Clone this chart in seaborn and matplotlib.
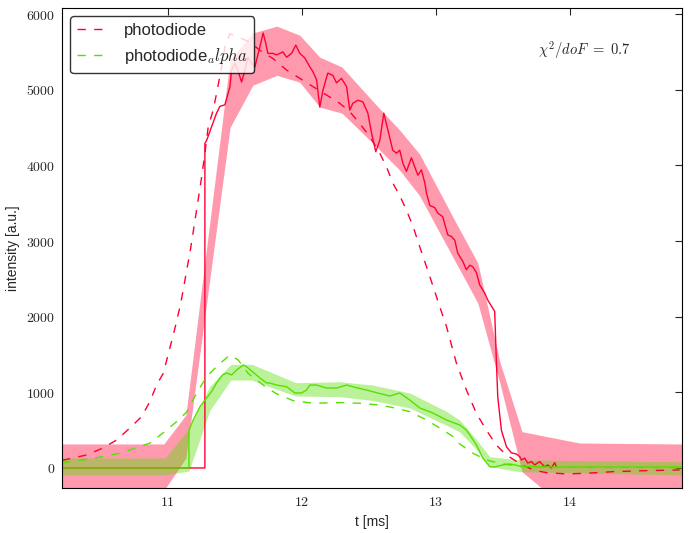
import matplotlib
matplotlib.use("Agg")
import matplotlib.pyplot as plt
from matplotlib.ticker import FuncFormatter, MultipleLocator
import seaborn as sns

# measured photodiode signal (solid red)
red_t = [10.21, 11.277, 11.277, 11.290, 11.327, 11.364, 11.389, 11.426, 11.464, 11.476, 11.501, 11.523, 11.551,
         11.576, 11.598, 11.626, 11.650, 11.688, 11.712, 11.732, 11.747, 11.785, 11.812, 11.837, 11.859, 11.887,
         11.924, 11.956, 11.986, 12.023, 12.061, 12.083, 12.111, 12.135, 12.158, 12.195, 12.232, 12.260, 12.297,
         12.335, 12.359, 12.381, 12.419, 12.456, 12.494, 12.521, 12.553, 12.583, 12.613, 12.643, 12.680, 12.708,
         12.732, 12.755, 12.782, 12.819, 12.844, 12.867, 12.894, 12.919, 12.932, 12.956, 12.994, 13.016, 13.053,
         13.091, 13.118, 13.143, 13.165, 13.203, 13.230, 13.255, 13.277, 13.305, 13.329, 13.367, 13.389, 13.427,
         13.441, 13.454, 13.464, 13.491, 13.529, 13.566, 13.603, 13.628, 13.641, 13.665, 13.688, 13.715, 13.740,
         13.777, 13.814, 13.837, 13.864, 13.889, 13.902]
red_i = [0, 0, 4290, 4330, 4510, 4690, 4780, 4800, 5040, 5260, 5350, 5260, 5100,
         5260, 5430, 5350, 5300, 5570, 5750, 5610, 5480, 5480, 5460, 5480, 5500, 5430,
         5480, 5590, 5480, 5420, 5300, 5240, 5130, 4770, 4990, 5220, 5190, 5090, 5150,
         5040, 4730, 4820, 4860, 4840, 4690, 4430, 4180, 4330, 4690, 4470, 4200, 4160,
         4200, 4030, 3920, 4100, 3980, 3870, 3940, 3770, 3630, 3470, 3440, 3370, 3320,
         3080, 3060, 3010, 2840, 2730, 2620, 2680, 2660, 2580, 2420, 2310, 2220, 2110,
         2070, 1390, 940, 500, 280, 200, 185, 150, 105, 130, 65, 85, 40,
         85, 15, 40, 0, 70, 15]

# model curve (dashed red)
rfit_t = [10.21, 10.394, 10.516, 10.618, 10.717, 10.805, 10.867, 10.917, 10.966, 11.003, 11.053, 11.091, 11.115,
          11.141, 11.165, 11.215, 11.253, 11.277, 11.302, 11.339, 11.364, 11.402, 11.426, 11.464, 11.613, 11.688,
          11.787, 11.887, 11.986, 12.085, 12.185, 12.284, 12.359, 12.434, 12.509, 12.583, 12.633, 12.682, 12.732,
          12.782, 12.832, 12.882, 12.932, 12.981, 13.031, 13.081, 13.156, 13.230, 13.305, 13.379, 13.454, 13.529,
          13.628, 13.727, 13.827, 13.976, 14.125, 14.324, 14.573, 14.822]
rfit_i = [100, 172, 264, 370, 528, 680, 880, 1100, 1250, 1500, 1845, 2130, 2350,
          2616, 2840, 3410, 3850, 4160, 4510, 4730, 4950, 5300, 5565, 5740, 5630, 5520,
          5410, 5260, 5150, 5040, 4930, 4820, 4710, 4550, 4380, 4160, 3980, 3760, 3600,
          3408, 3190, 2920, 2660, 2400, 2130, 1870, 1380, 1030, 720, 500, 300, 170,
          60, -26, -62, -79, -70, -49, -35, -26]

# uncertainty band of the red signal
rb_t = [10.21, 10.97, 11.135, 11.465, 11.635, 11.815, 11.985, 12.135, 12.30, 12.545, 12.73, 12.88, 13.14,
        13.315, 13.48, 13.645, 13.815, 14.075, 14.84]
rb_hi = [317, 317, 700, 5400, 5750, 5840, 5720, 5430, 5300, 4820, 4470, 4150, 3280,
         2710, 1400, 480, 420, 330, 317]
rb_lo = [-300, -300, 130, 4500, 5060, 5190, 5100, 4770, 4690, 4270, 3940, 3600, 2750,
         2180, 1120, -50, -300, -300, -300]

# photodiode_alpha: measured (solid green)
gmeas_t = [10.21, 11.158, 11.158, 11.190, 11.240, 11.290, 11.327, 11.364, 11.409, 11.439, 11.476, 11.514, 11.563,
           11.588, 11.635, 11.688, 11.738, 11.762, 11.812, 11.887, 11.949, 11.999, 12.036, 12.061, 12.111, 12.185,
           12.260, 12.335, 12.409, 12.484, 12.558, 12.658, 12.732, 12.807, 12.882, 12.979, 13.081, 13.180, 13.230,
           13.305, 13.352, 13.404, 13.441, 13.501, 13.553, 13.628, 13.827, 14.076, 14.837]
gmeas_i = [0, 0, 500, 634, 810, 925, 1008, 1123, 1229, 1255, 1229, 1295, 1361,
           1338, 1268, 1189, 1123, 1123, 1096, 1074, 991, 991, 1030, 1096, 1096, 1057,
           1057, 1096, 1061, 1030, 995, 951, 991, 898, 793, 727, 634, 568, 502,
           304, 132, 17, 13, 40, 53, 26, 13, 13, 13]

# photodiode_alpha: model (dashed green)
gfit_t = [10.21, 10.444, 10.643, 10.792, 10.867, 10.964, 11.066, 11.141, 11.215, 11.290, 11.376, 11.464, 11.526,
          11.600, 11.712, 11.812, 11.936, 12.085, 12.285, 12.434, 12.583, 12.708, 12.807, 12.920, 13.031, 13.130,
          13.156, 13.279, 13.379, 13.479, 13.628, 13.827, 14.837]
gfit_i = [66, 128, 194, 282, 330, 462, 612, 740, 990, 1206, 1361, 1493, 1427,
          1250, 1096, 980, 890, 855, 865, 855, 832, 788, 744, 645, 528, 414,
          348, 194, 106, 62, 18, 9, 5]

gb_t = [10.21, 10.979, 11.158, 11.314, 11.471, 11.628, 11.785, 11.956, 12.285, 12.531, 12.807, 13.076, 13.180,
        13.307, 13.404, 13.628, 14.837]
gb_hi = [132, 132, 520, 1080, 1370, 1370, 1255, 1127, 1140, 1096, 991, 753, 634,
         370, 149, 106, 83]
gb_lo = [-92, -92, -40, 760, 1162, 1162, 1057, 951, 942, 892, 793, 568, 476,
         238, 17, -49, -92]

RED = "#ff0033"
GREEN = "#55e000"

sns.set_style("white", {"xtick.direction": "in", "ytick.direction": "in",
                        "axes.edgecolor": "black", "axes.linewidth": 1.0})
plt.rcParams["font.family"] = ["Liberation Sans", "DejaVu Sans"]
plt.rcParams["mathtext.fontset"] = "cm"

fig = plt.figure(figsize=(6.92, 5.33), dpi=100)
ax = fig.add_axes([0.0896, 0.0844, 0.8960, 0.9006])

ax.fill_between(rb_t, rb_lo, rb_hi, color=RED, alpha=0.4, linewidth=0)
ax.fill_between(gb_t, gb_lo, gb_hi, color=GREEN, alpha=0.4, linewidth=0)

sns.lineplot(x=red_t, y=red_i, color=RED, lw=1.0, sort=False, estimator=None, errorbar=None, ax=ax)
sns.lineplot(x=rfit_t, y=rfit_i, color=RED, lw=1.0, linestyle=(0, (6, 6)), sort=False, estimator=None,
             errorbar=None, label="photodiode", ax=ax)
sns.lineplot(x=gmeas_t, y=gmeas_i, color=GREEN, lw=1.0, sort=False, estimator=None, errorbar=None, ax=ax)
sns.lineplot(x=gfit_t, y=gfit_i, color=GREEN, lw=1.0, linestyle=(0, (6, 6)), sort=False, estimator=None,
             errorbar=None, label="photodiode$_alpha$", ax=ax)

ax.set_xlim(10.21, 14.84)
ax.set_ylim(-265, 6080)
ax.xaxis.set_major_locator(MultipleLocator(1))
ax.yaxis.set_major_locator(MultipleLocator(1000))
ax.xaxis.set_major_formatter(FuncFormatter(lambda v, p: r"$%d$" % round(v)))
ax.yaxis.set_major_formatter(FuncFormatter(lambda v, p: r"$%d$" % round(v)))
ax.tick_params(direction="in", top=True, right=True, length=5, width=0.8, labelsize=10, pad=5)

ax.set_xlabel("t [ms]", fontsize=10)
ax.set_ylabel("intensity [a.u.]", fontsize=10)

ax.text(0.768, 0.9125, r"$\chi^2/doF\ =\ 0.7$", transform=ax.transAxes, fontsize=10.5, va="center")

leg = ax.legend(loc="upper left", fontsize=12, fancybox=True, framealpha=0.8, handlelength=2.0,
                borderaxespad=0.5)
leg.get_frame().set_edgecolor("black")
leg.get_frame().set_linewidth(1.0)

fig.savefig("out.png", dpi=100)
